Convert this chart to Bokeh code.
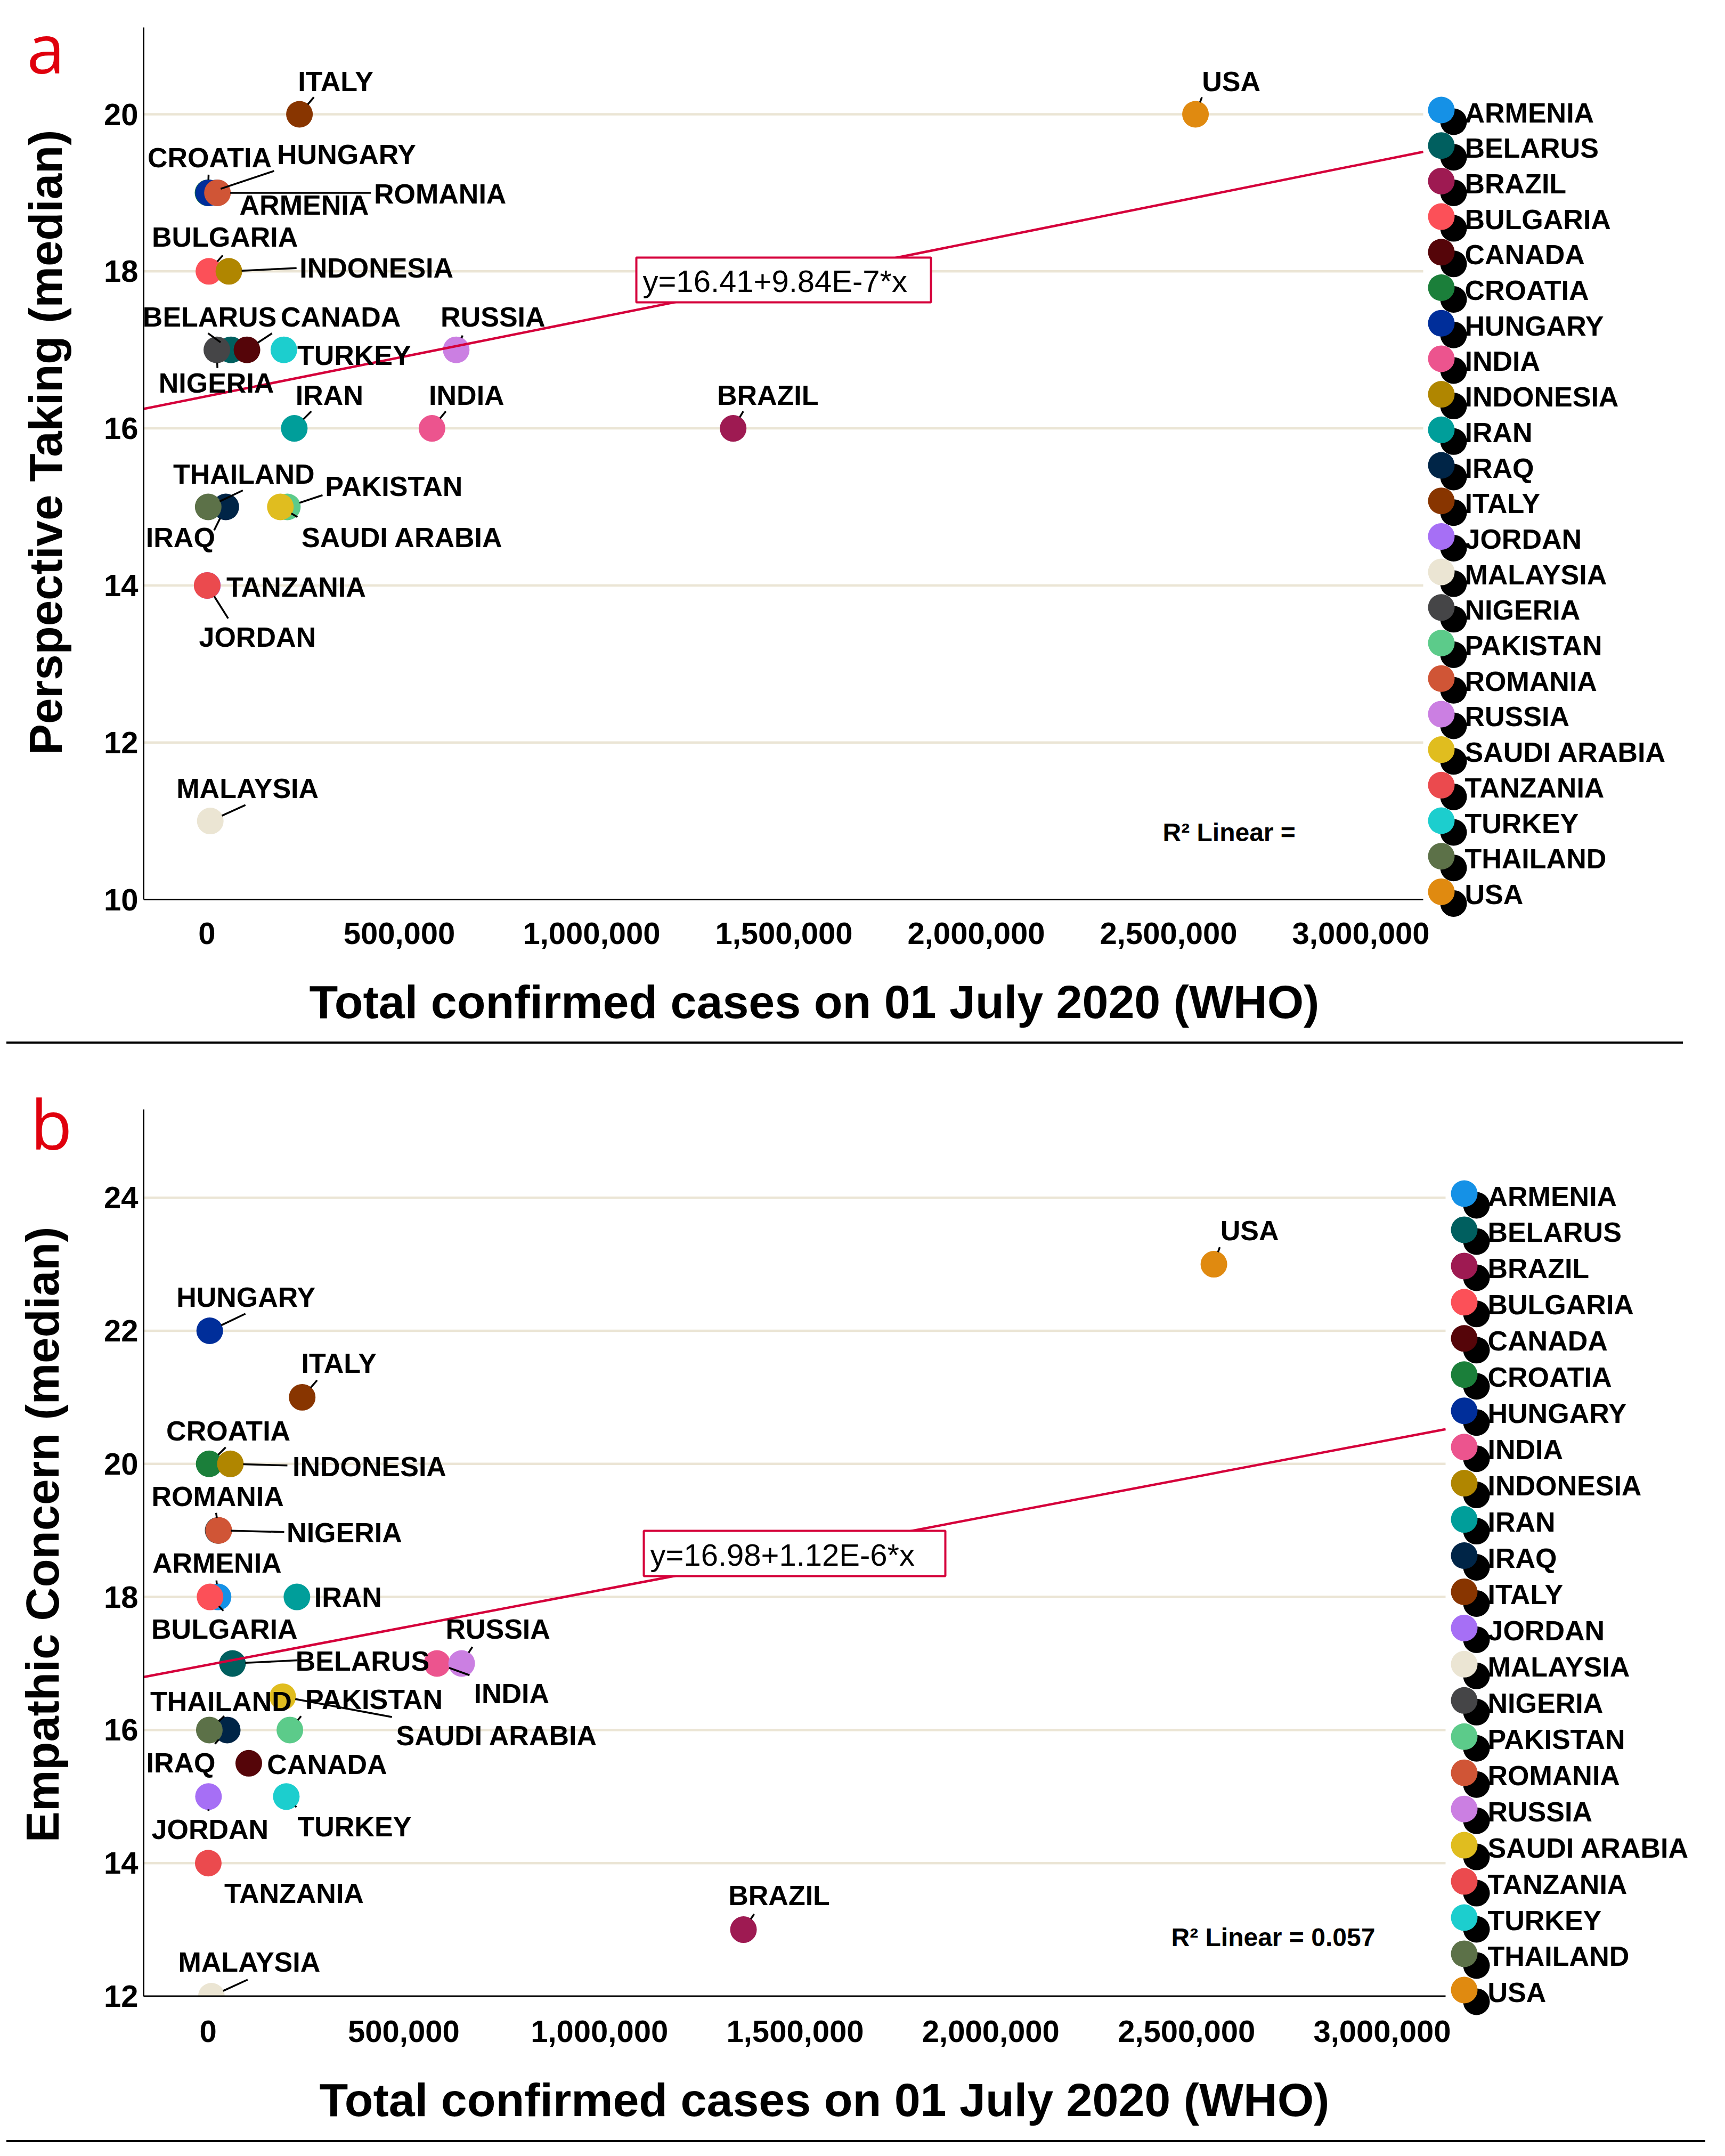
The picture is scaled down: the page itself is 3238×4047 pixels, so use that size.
import math
from bokeh.plotting import figure
from bokeh.models import Range1d, FixedTicker, NumeralTickFormatter, Label, Div, LinearAxis
from bokeh.layouts import column
from bokeh.embed import file_html
from bokeh.resources import INLINE
from bokeh.core.properties import value

# ---------------- data ----------------
countries = ["ARMENIA", "BELARUS", "BRAZIL", "BULGARIA", "CANADA", "CROATIA", "HUNGARY",
             "INDIA", "INDONESIA", "IRAN", "IRAQ", "ITALY", "JORDAN", "MALAYSIA", "NIGERIA",
             "PAKISTAN", "ROMANIA", "RUSSIA", "SAUDI ARABIA", "TANZANIA", "TURKEY",
             "THAILAND", "USA"]
total_cases = [25500, 62400, 1368000, 5000, 104000, 2800, 4200,
               585000, 57000, 227000, 49000, 240500, 1100, 8600, 25700,
               209000, 27300, 648000, 190800, 500, 199900,
               3200, 2570000]
perspective_taking = [19, 17, 16, 18, 17, 19, 19,
                      16, 18, 16, 15, 20, 14, 11, 17,
                      15, 19, 17, 15, 14, 17,
                      15, 20]
empathic_concern = [18, 17, 13, 18, 15.5, 20, 22,
                    17, 20, 18, 16, 21, 15, 12, 19,
                    16, 19, 17, 16.5, 14, 15,
                    16, 23]
country_colors = ["#1591e6", "#005f5f", "#9e1a52", "#fc5058", "#550509", "#1b7f3a", "#002e9a",
                  "#ec548e", "#b08600", "#009e9a", "#002547", "#883500", "#a66ff5", "#ebe5d3",
                  "#454547", "#5ccb8a", "#d05536", "#cb7fe2", "#e0bd1f", "#eb4a4e", "#1ccece",
                  "#5c7148", "#e08a10"]
pt_fit = (16.41, 9.84e-7)
ec_fit = (16.98, 1.12e-6)
pt_r2 = None
ec_r2 = 0.057
x_ticks = [0, 500000, 1000000, 1500000, 2000000, 2500000, 3000000]
pt_ticks = [10, 12, 14, 16, 18, 20]
ec_ticks = [12, 14, 16, 18, 20, 22, 24]
x_title = "Total confirmed cases on 01 July 2020 (WHO)"
pt_title = "Perspective Taking (median)"
ec_title = "Empathic Concern (median)"

# ---------------- label placement (screen px offsets) ----------------
# (text dx, text dy, leader end dx, leader end dy)
OFFS_A = {
    "ARMENIA": (164, 23, None, None), "BELARUS": (-40, -62, -43, -31),
    "BRAZIL": (65, -62, 19, -32), "BULGARIA": (30, -64, 26, -30),
    "CANADA": (176, -62, 47, -31), "CROATIA": (3, -66, 1, -34),
    "HUNGARY": (259, -72, 123, -41), "INDIA": (65, -62, 26, -32),
    "INDONESIA": (277, -6, 127, -6), "IRAN": (66, -62, 32, -32),
    "IRAQ": (-85, 57, -22, 44), "ITALY": (68, -62, 27, -32),
    "JORDAN": (94, 97, 39, 62), "MALAYSIA": (70, -61, 66, -30),
    "NIGERIA": (-1, 62, 1, 34), "PAKISTAN": (200, -39, 66, -22),
    "ROMANIA": (418, 2, 288, 0), "RUSSIA": (69, -62, 12, -27),
    "SAUDI ARABIA": (229, 57, 32, 19), "TANZANIA": (167, 3, None, None),
    "TURKEY": (132, 10, None, None), "THAILAND": (67, -62, 65, -31),
    "USA": (67, -62, 12, -32),
}
OFFS_B = {
    "ARMENIA": (-2, -64, -3, -31), "BELARUS": (244, -5, 122, -6),
    "BRAZIL": (67, -64, 20, -29), "BULGARIA": (27, 60, 25, 26),
    "CANADA": (147, 2, None, None), "CROATIA": (36, -62, 31, -31),
    "HUNGARY": (68, -63, 67, -32), "INDIA": (140, 56, 61, 22),
    "INDONESIA": (261, 5, 107, 3), "IRAN": (96, 0, None, None),
    "IRAQ": (-87, 62, -23, 26), "ITALY": (69, -64, 28, -32),
    "JORDAN": (3, 62, 0, 27), "MALAYSIA": (71, -64, 68, -31),
    "NIGERIA": (237, 4, 124, 3), "PAKISTAN": (158, -57, 21, -26),
    "ROMANIA": (-2, -64, -5, -33), "RUSSIA": (68, -65, 20, -31),
    "SAUDI ARABIA": (402, 73, 205, 38), "TANZANIA": (161, 57, 13, 20),
    "TURKEY": (128, 57, 19, 20), "THAILAND": (22, -53, 28, -26),
    "USA": (67, -63, 11, -32),
}

# ---------------- layout geometry (page px) ----------------
FRAME_LEFT, FRAME_RIGHT = 277, 3230
X_AXIS_START, X_AXIS_END = -164800, 3162000
GEO_A = dict(fig_top=8, frame_top=59, axis_px=1696, frame_bottom=1732, fig_bottom=1963,
             axis_right=2679, ppu=147.4,
             leg_first=155, leg_step=66.7, leg_dx=34,
             eq_box=(1202, 491, 1755, 575), r2_pos=(2190, 1570),
             xt_x=1536, yt_y=838, letter_y=95,
             x_std=7, xt_std=56, letter_std=70, yt_std=-87)
GEO_B = dict(fig_top=1967, frame_top=2090, axis_px=3754.5, frame_bottom=3793, fig_bottom=4025,
             axis_right=2721, ppu=124.9,
             leg_first=158, leg_step=67.95, leg_dx=35,
             eq_box=(1216, 2881, 1782, 2966), r2_pos=(2206, 3644),
             xt_x=1555, yt_y=2888, letter_y=2116,
             x_std=7, xt_std=56, letter_std=56, yt_std=-74)

RED = "#d5003b"
GRID = "#ebe5d5"
FONT = value("Liberation Sans")


def fmt_eq(a, b):
    mant, exp = f"{b:.2E}".split("E")
    return f"y={a:.2f}+{mant}E{int(exp)}*x"


def text_axis(pos, label, font, size, color, style, standoff, orientation):
    tick = round(pos, 4)
    ax = LinearAxis(ticker=FixedTicker(ticks=[tick]), major_label_overrides={tick: label},
                    axis_line_color=None, major_tick_line_color=None,
                    minor_tick_line_color=None, major_tick_in=0, major_tick_out=0,
                    major_label_text_font=font, major_label_text_font_size=size,
                    major_label_text_font_style=style, major_label_text_color=color,
                    major_label_standoff=standoff, major_label_orientation=orientation)
    return ax


def build(vals, fit, r2, yticks, ymin, ytitle, letter, g, offs):
    fl, fr = FRAME_LEFT, FRAME_RIGHT
    ft, fb, ar = g["frame_top"], g["frame_bottom"], g["axis_right"]
    fw, fh = fr - fl, fb - ft
    kx = (X_AXIS_END - X_AXIS_START) / (ar - fl)
    x_hi = X_AXIS_END + (fr - ar) * kx
    ky = 1.0 / g["ppu"]
    y_hi = ymin + (g["axis_px"] - ft) * ky
    y_lo = ymin - (fb - g["axis_px"]) * ky

    def X(px):
        return X_AXIS_START + (px - fl) * kx

    def Y(py):
        return ymin - (py - g["axis_px"]) * ky

    p = figure(frame_width=fw, frame_height=fh,
               min_border_left=fl - 8, min_border_right=0,
               min_border_top=ft - g["fig_top"], min_border_bottom=g["fig_bottom"] - fb,
               x_range=Range1d(X_AXIS_START, x_hi), y_range=Range1d(y_lo, y_hi),
               output_backend="svg", toolbar_location=None,
               background_fill_color="white", border_fill_color="white",
               outline_line_color=None)
    p.xgrid.visible = False
    p.ygrid.visible = False

    # axes
    p.xaxis.ticker = FixedTicker(ticks=x_ticks)
    p.xaxis.formatter = NumeralTickFormatter(format="0,0")
    p.xaxis.axis_line_color = None
    p.yaxis.ticker = FixedTicker(ticks=yticks)
    p.yaxis.bounds = (ymin, y_hi)
    p.yaxis.axis_line_color = "black"
    p.yaxis.axis_line_width = 3
    for ax in p.axis:
        ax.major_tick_line_color = None
        ax.minor_tick_line_color = None
        ax.major_tick_out = 0
        ax.major_tick_in = 0
        ax.major_label_text_font = "Liberation Sans"
        ax.major_label_text_font_style = "bold"
        ax.major_label_text_font_size = "58px"
        ax.major_label_text_color = "black"
    p.xaxis.major_label_standoff = g["x_std"]
    p.yaxis.major_label_standoff = 10

    # grid lines up to axis end
    gy = [t for t in yticks if t > ymin]
    p.segment(x0=[X_AXIS_START] * len(gy), y0=gy, x1=[X_AXIS_END] * len(gy), y1=gy,
              line_color=GRID, line_width=4.5, level="underlay")

    # points
    p.scatter(x=total_cases, y=vals, size=50, fill_color=country_colors, line_color=None)

    # regression line
    a, b = fit
    xs = [X_AXIS_START, X_AXIS_END]
    p.line(x=xs, y=[a + b * v for v in xs], line_color=RED, line_width=4.5)

    # leader lines
    r = 24
    sx0, sy0, sx1, sy1 = [], [], [], []
    for c, xv, yv in zip(countries, total_cases, vals):
        o = offs[c]
        if o[2] is None:
            continue
        ex, ey = o[2], o[3]
        d = math.hypot(ex, ey)
        if d <= r:
            continue
        sx0.append(xv + ex * r / d * kx)
        sy0.append(yv - ey * r / d * ky)
        sx1.append(xv + ex * kx)
        sy1.append(yv - ey * ky)
    p.segment(x0=sx0, y0=sy0, x1=sx1, y1=sy1, line_color="black", line_width=3.5)

    # point labels
    p.text(x=total_cases, y=vals, text=countries,
           x_offset=[offs[c][0] for c in countries], y_offset=[offs[c][1] for c in countries],
           text_align="center", text_baseline="middle", text_font=FONT,
           text_font_style="bold", text_font_size="52px", text_color="black")

    # equation box
    bl, bt, br, bb = g["eq_box"]
    p.rect(x=[X((bl + br) / 2)], y=[Y((bt + bb) / 2)], width=[br - bl], height=[bb - bt],
           width_units="screen", height_units="screen",
           fill_color="white", line_color=RED, line_width=4)
    p.text(x=[X(bl + 12)], y=[Y((bt + bb) / 2 + 2)], text=[fmt_eq(a, b)],
           text_align="left", text_baseline="middle", text_font=FONT,
           text_font_size="58px", text_color="black")

    # R^2
    r2txt = "R² Linear =" + ("" if r2 is None else f" {r2:.3f}")
    p.add_layout(Label(x=X(g["r2_pos"][0]), y=Y(g["r2_pos"][1]), text=r2txt,
                       text_align="left", text_baseline="alphabetic",
                       text_font="Liberation Sans", text_font_style="bold",
                       text_font_size="48px", text_color="black"))

    # mask below the x axis line (the frame extends lower to hold the legend)
    p.quad(left=[X_AXIS_START], right=[X_AXIS_END], bottom=[y_lo], top=[ymin],
           fill_color="white", line_color=None)
    p.segment(x0=[X_AXIS_START], y0=[ymin], x1=[X_AXIS_END], y1=[ymin],
              line_color="black", line_width=3)

    # legend (pixel-space ranges inside the frame)
    p.extra_x_ranges = {"lx": Range1d(fl, fr)}
    p.extra_y_ranges = {"ly": Range1d(fb, ft)}
    n = len(countries)
    ly = [ft + g["leg_first"] + i * g["leg_step"] for i in range(n)]
    lx = [ar + g["leg_dx"]] * n
    p.scatter(x=[v + 23 for v in lx], y=[v + 22 for v in ly], size=50,
              fill_color="black", line_color=None, x_range_name="lx", y_range_name="ly")
    p.scatter(x=lx, y=ly, size=50, fill_color=country_colors, line_color=None,
              x_range_name="lx", y_range_name="ly")
    p.text(x=[v + 44 for v in lx], y=[v + 5 for v in ly], text=countries,
           text_align="left", text_baseline="middle", text_font=FONT,
           text_font_style="bold", text_font_size="52px", text_color="black",
           x_range_name="lx", y_range_name="ly")

    # x title (as a one-tick axis placed under the main x axis)
    p.add_layout(text_axis(X(g["xt_x"]), x_title, "Liberation Sans", "88px", "black", "bold",
                           g["xt_std"], "horizontal"), "below")
    # panel letter and y title (one-tick axes stacked left of the main y axis)
    p.add_layout(text_axis(Y(g["letter_y"]), letter, "Open Sans", "128px", "#e0000d", "normal",
                           g["letter_std"], "horizontal"), "left")
    p.add_layout(text_axis(Y(g["yt_y"]), ytitle, "Liberation Sans", "87px", "black", "bold",
                           g["yt_std"], "parallel"), "left")
    return p


pa = build(perspective_taking, pt_fit, pt_r2, pt_ticks, 10, pt_title, "a", GEO_A, OFFS_A)
pb = build(empathic_concern, ec_fit, ec_r2, ec_ticks, 12, ec_title, "b", GEO_B, OFFS_B)

sep_a = Div(text="", width=3147, height=4, margin=(0, 0, 0, 12),
            styles={"background-color": "black"})
sep_b = Div(text="", width=3189, height=4, margin=(0, 0, 0, 12),
            styles={"background-color": "black"})

layout = column(pa, sep_a, pb, sep_b, spacing=0)
open("out.html", "w").write(file_html(layout, INLINE))
